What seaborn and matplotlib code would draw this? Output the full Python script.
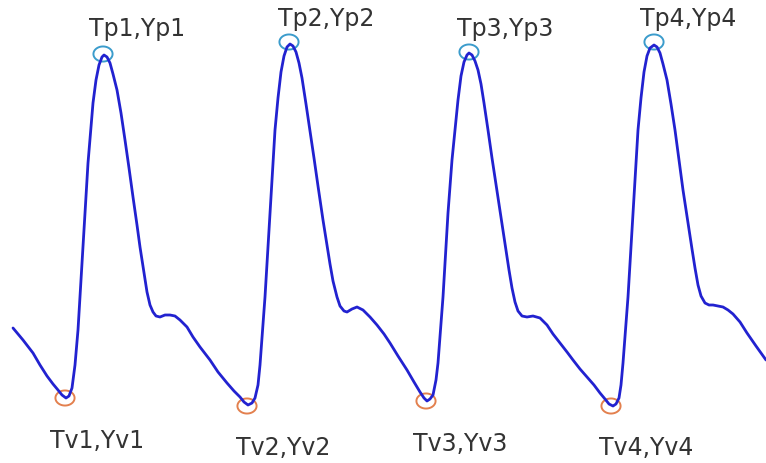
import numpy as np
import pandas as pd
import matplotlib
matplotlib.use("Agg")
import matplotlib.pyplot as plt
from matplotlib.path import Path
import seaborn as sns

# waveform samples (time, signal; signal axis points down)
time = [13, 23, 33, 40, 47, 53, 58, 62, 66, 69, 72, 75, 78, 83, 88, 93, 96, 99, 102, 104,
        107, 110, 113, 117, 121, 125, 129, 133, 137, 140, 144, 147, 150, 153, 156, 160, 165,
        170, 175, 180, 187, 193, 200, 210, 218, 227, 234, 240, 244, 248, 252, 255, 258, 260,
        265, 270, 275, 278, 281, 284, 287, 290, 293, 296, 299, 302, 306, 310, 314, 318, 323,
        327, 330, 333, 337, 340, 344, 347, 352, 357, 363, 370, 377, 384, 390, 398, 407, 414,
        420, 424, 427, 430, 433, 436, 438, 443, 448, 452, 455, 458, 461, 464, 467, 469, 472,
        475, 478, 481, 484, 488, 492, 497, 501, 505, 509, 512, 515, 518, 522, 527, 533, 540,
        547, 553, 560, 567, 573, 580, 587, 594, 600, 605, 609, 613, 616, 619, 621, 623, 628,
        633, 638, 641, 644, 647, 650, 654, 657, 660, 663, 667, 671, 675, 679, 683, 688, 692,
        695, 698, 701, 705, 709, 713, 718, 723, 728, 733, 740, 747, 756, 766]
signal = [328, 340, 353, 365, 376, 384, 390, 395, 398, 396, 388, 365, 330, 247, 163, 103, 80, 65, 57, 55,
          57, 63, 74, 90, 113, 140, 168, 197, 225, 247, 273, 292, 305, 312, 316, 317, 315,
          315, 316, 320, 327, 337, 347, 360, 372, 383, 391, 397, 402, 405, 403, 398, 385, 365,
          297, 213, 130, 98, 72, 56, 47, 44, 46, 52, 63, 78, 104, 131, 158, 186, 220,
          245, 264, 281, 297, 306, 311, 312, 309, 307, 310, 317, 325, 334, 343, 356, 370, 382,
          392, 398, 401, 399, 395, 380, 363, 297, 213, 160, 130, 100, 76, 62, 55, 53, 55,
          61, 70, 84, 103, 130, 158, 191, 218, 244, 270, 288, 302, 311, 316, 317, 316, 318,
          325, 334, 343, 352, 360, 369, 377, 385, 393, 399, 404, 406, 404, 398, 385, 363, 297,
          213, 130, 98, 72, 56, 48, 45, 47, 53, 64, 80, 104, 130, 160, 190, 223, 249,
          268, 285, 296, 303, 305, 305, 306, 307, 310, 314, 322, 333, 346, 360]

peak_t = [103, 289, 469, 654]
peak_y = [54, 42, 52, 42]
valley_t = [65, 247, 426, 611]
valley_y = [398, 406, 401, 406]

peak_labels = ["Tp1,Yp1", "Tp2,Yp2", "Tp3,Yp3", "Tp4,Yp4"]
valley_labels = ["Tv1,Yv1", "Tv2,Yv2", "Tv3,Yv3", "Tv4,Yv4"]
peak_label_pos = [(137, 29), (326, 19), (505, 29), (688, 19)]
valley_label_pos = [(97, 441), (283, 448), (460, 444), (646, 448)]

sns.set_style("white")
plt.rcParams['font.family'] = ['DejaVu Sans']

fig = plt.figure(figsize=(7.66, 4.63), dpi=100)
ax = fig.add_axes([0, 0, 1, 1])

df = pd.DataFrame({"time": time, "signal": signal})

theta = np.linspace(0, 2 * np.pi, 60)
ell = Path(np.column_stack([1.27 * np.cos(theta), np.sin(theta)]), closed=True)

sns.scatterplot(x=peak_t, y=peak_y, ax=ax, marker=ell, s=190, facecolor="none",
                edgecolor="#3b9ccc", linewidth=1.4, zorder=2)
sns.scatterplot(x=valley_t, y=valley_y, ax=ax, marker=ell, s=190, facecolor="none",
                edgecolor="#e3804e", linewidth=1.4, zorder=2)
sns.lineplot(data=df, x="time", y="signal", ax=ax, color="#2222d0", linewidth=2.0,
             sort=False, zorder=3)

for lab, (x, y) in zip(peak_labels, peak_label_pos):
    ax.text(x, y, lab, ha="center", va="center", fontsize=17, color="#333333")
for lab, (x, y) in zip(valley_labels, valley_label_pos):
    ax.text(x, y, lab, ha="center", va="center", fontsize=17, color="#333333")

ax.set_xlim(0, 766)
ax.set_ylim(463, 0)
ax.axis("off")

fig.savefig("out.png", dpi=100, facecolor="white")
